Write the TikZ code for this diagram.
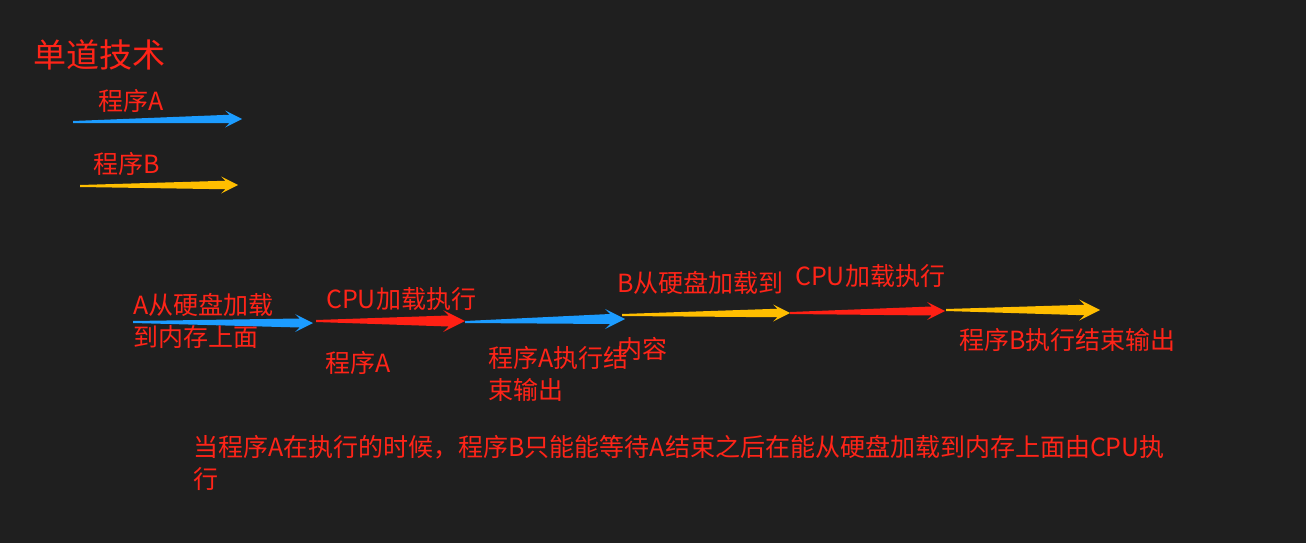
\documentclass[tikz,border=0pt]{standalone}
\usepackage{fontspec}
\setmainfont{Noto Sans CJK SC}
\usetikzlibrary{calc}
\definecolor{bg}{RGB}{31,31,31}
\definecolor{txtred}{RGB}{255,36,24}
\definecolor{arrblue}{RGB}{28,156,255}
\definecolor{arryellow}{RGB}{255,190,0}
\definecolor{arrred}{RGB}{255,32,20}
% tapered arrow: colour, from, to, head length
\newcommand{\tarrow}[4]{%
  \fill[#1] ($(#2)+(0,1)$) -- ($(#3)+#4*(-0.75,0.25)$) -- ($(#3)+#4*(-1,0.5)$) -- (#3)
    -- ($(#3)+#4*(-1,-0.5)$) -- ($(#3)+#4*(-0.75,-0.25)$) -- ($(#2)+(0,-1)$) -- cycle;}

\begin{document}
\begin{tikzpicture}[x=1pt,y=-1pt,
  lb/.style={text=txtred,inner sep=0pt,anchor=west,align=left,font=\fontsize{25}{32}\selectfont}]
  \fill[bg] (0,0) rectangle (1306,543);
  \useasboundingbox (0,0) rectangle (1306,543);
  % legend
  \node[lb,font=\fontsize{33}{40}\selectfont] (title) at (33,55) {单道技术};
  \node[lb] (legA) at (98,101) {程序A};
  \node[lb] (legB) at (93,164) {程序B};
  \coordinate (ta0) at (73,122);  \coordinate (ta1) at (242,119);
  \coordinate (tb0) at (80,186);  \coordinate (tb1) at (238,185);
  \tarrow{arrblue}{ta0}{ta1}{17}
  \tarrow{arryellow}{tb0}{tb1}{17}
  % time line
  \coordinate (t0) at (133,322);  \coordinate (t1) at (313,323);
  \coordinate (t2) at (316,321);  \coordinate (t3) at (465,321);
  \coordinate (t4) at (465,322);  \coordinate (t5) at (625,319);
  \coordinate (t6) at (622,315);  \coordinate (t7) at (790,313);
  \coordinate (t8) at (790,313);  \coordinate (t9) at (945,311);
  \coordinate (t10) at (946,310); \coordinate (t11) at (1100,310);
  \tarrow{arrblue}{t0}{t1}{18}
  \tarrow{arrred}{t2}{t3}{22}
  \tarrow{arrblue}{t4}{t5}{20}
  \tarrow{arryellow}{t6}{t7}{17}
  \tarrow{arrred}{t8}{t9}{18}
  \tarrow{arryellow}{t10}{t11}{21}
  \node[lb] (loadA) at (133,321) {A从硬盘加载\\到内存上面};
  \node[lb] (cpuA)  at (326,299) {CPU加载执行};
  \node[lb] (progA) at (325,363) {程序A};
  \node[lb] (endA)  at (488,374) {程序A执行结\\束输出};
  \node[lb] (loadB) at (617,283) {B从硬盘加载到};
  \node[lb] (memB)  at (617,349) {内容};
  \node[lb] (cpuB)  at (795,276) {CPU加载执行};
  \node[lb] (endB)  at (959,340) {程序B执行结束输出};
  \node[lb] (note)  at (193,463) {当程序A在执行的时候，程序B只能能等待A结束之后在能从硬盘加载到内存上面由CPU执\\行};
\end{tikzpicture}
\end{document}
